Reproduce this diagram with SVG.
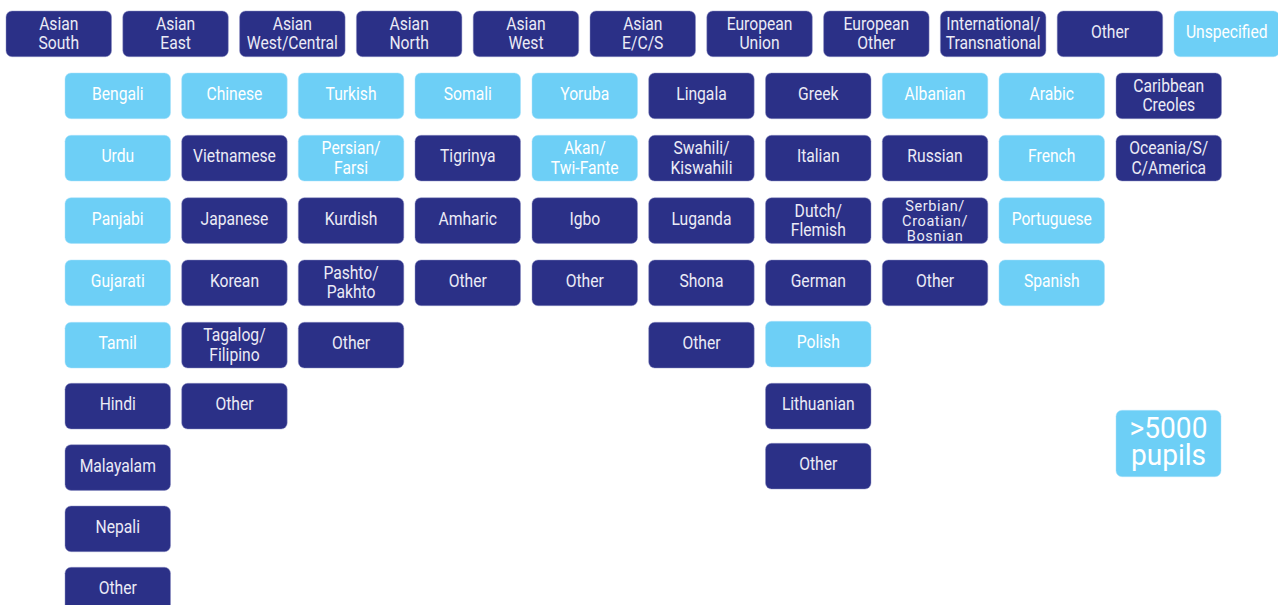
<svg xmlns="http://www.w3.org/2000/svg" width="1278" height="605" viewBox="0 0 1278 605">
<style>
rect{stroke-width:0.8;}
.d rect{fill:#2b3087;stroke:#8e90c4;stroke-opacity:0.6;}
.l rect{fill:#6dcff6;stroke:#a8e2fa;stroke-opacity:0.6;}
text{font-family:Roboto,"Liberation Sans",sans-serif;font-size:18px;text-anchor:middle;}
.d text{fill:#ebebf6;}
.l text{fill:#ffffff;}
.s{font-size:14.5px;letter-spacing:0.6px;}
.big{font-size:29px;}
</style>
<rect width="1278" height="605" fill="#ffffff"/>
<g id="connectors"></g>
<!-- Top row -->
<g id="n-asian-south" class="d"><rect x="6" y="11" width="105.5" height="45.7" rx="6"/><text transform="translate(58.75 30) scale(0.87 1)"><tspan x="0">Asian</tspan><tspan x="0" dy="19.5">South</tspan></text></g>
<g id="n-asian-east" class="d"><rect x="122.8" y="11" width="105.5" height="45.7" rx="6"/><text transform="translate(175.55 30) scale(0.87 1)"><tspan x="0">Asian</tspan><tspan x="0" dy="19.5">East</tspan></text></g>
<g id="n-asian-west-central" class="d"><rect x="239.6" y="11" width="105.5" height="45.7" rx="6"/><text transform="translate(292.35 30) scale(0.87 1)"><tspan x="0">Asian</tspan><tspan x="0" dy="19.5">West/Central</tspan></text></g>
<g id="n-asian-north" class="d"><rect x="356.4" y="11" width="105.5" height="45.7" rx="6"/><text transform="translate(409.15 30) scale(0.87 1)"><tspan x="0">Asian</tspan><tspan x="0" dy="19.5">North</tspan></text></g>
<g id="n-asian-west" class="d"><rect x="473.2" y="11" width="105.5" height="45.7" rx="6"/><text transform="translate(525.95 30) scale(0.87 1)"><tspan x="0">Asian</tspan><tspan x="0" dy="19.5">West</tspan></text></g>
<g id="n-asian-ecs" class="d"><rect x="590" y="11" width="105.5" height="45.7" rx="6"/><text transform="translate(642.75 30) scale(0.87 1)"><tspan x="0">Asian</tspan><tspan x="0" dy="19.5">E/C/S</tspan></text></g>
<g id="n-european-union" class="d"><rect x="706.8" y="11" width="105.5" height="45.7" rx="6"/><text transform="translate(759.55 30) scale(0.87 1)"><tspan x="0">European</tspan><tspan x="0" dy="19.5">Union</tspan></text></g>
<g id="n-european-other" class="d"><rect x="823.6" y="11" width="105.5" height="45.7" rx="6"/><text transform="translate(876.35 30) scale(0.87 1)"><tspan x="0">European</tspan><tspan x="0" dy="19.5">Other</tspan></text></g>
<g id="n-international" class="d"><rect x="940.4" y="11" width="105.5" height="45.7" rx="6"/><text transform="translate(993.15 30) scale(0.87 1)"><tspan x="0">International/</tspan><tspan x="0" dy="19.5">Transnational</tspan></text></g>
<g id="n-other-top" class="d"><rect x="1057.2" y="11" width="105.5" height="45.7" rx="6"/><text transform="translate(1109.95 38) scale(0.87 1)">Other</text></g>
<g id="n-unspecified" class="l"><rect x="1174" y="11" width="105.5" height="45.7" rx="6"/><text transform="translate(1226.75 38) scale(0.87 1)">Unspecified</text></g>
<!-- Column 1 -->
<g id="n-bengali" class="l"><rect x="65" y="73" width="105.5" height="45.7" rx="6"/><text transform="translate(117.75 100) scale(0.87 1)">Bengali</text></g>
<g id="n-urdu" class="l"><rect x="65" y="135.3" width="105.5" height="45.7" rx="6"/><text transform="translate(117.75 162.3) scale(0.87 1)">Urdu</text></g>
<g id="n-panjabi" class="l"><rect x="65" y="197.7" width="105.5" height="45.7" rx="6"/><text transform="translate(117.75 224.7) scale(0.87 1)">Panjabi</text></g>
<g id="n-gujarati" class="l"><rect x="65" y="260" width="105.5" height="45.7" rx="6"/><text transform="translate(117.75 287) scale(0.87 1)">Gujarati</text></g>
<g id="n-tamil" class="l"><rect x="65" y="322.3" width="105.5" height="45.7" rx="6"/><text transform="translate(117.75 349.3) scale(0.87 1)">Tamil</text></g>
<g id="n-hindi" class="d"><rect x="65" y="383.3" width="105.5" height="45.7" rx="6"/><text transform="translate(117.75 410.3) scale(0.87 1)">Hindi</text></g>
<g id="n-malayalam" class="d"><rect x="65" y="444.7" width="105.5" height="45.7" rx="6"/><text transform="translate(117.75 471.7) scale(0.87 1)">Malayalam</text></g>
<g id="n-nepali" class="d"><rect x="65" y="506" width="105.5" height="45.7" rx="6"/><text transform="translate(117.75 533) scale(0.87 1)">Nepali</text></g>
<g id="n-other-c1" class="d"><rect x="65" y="567.3" width="105.5" height="45.7" rx="6"/><text transform="translate(117.75 594.3) scale(0.87 1)">Other</text></g>
<!-- Column 2 -->
<g id="n-chinese" class="l"><rect x="181.7" y="73" width="105.5" height="45.7" rx="6"/><text transform="translate(234.45 100) scale(0.87 1)">Chinese</text></g>
<g id="n-vietnamese" class="d"><rect x="181.7" y="135.3" width="105.5" height="45.7" rx="6"/><text transform="translate(234.45 162.3) scale(0.87 1)">Vietnamese</text></g>
<g id="n-japanese" class="d"><rect x="181.7" y="197.7" width="105.5" height="45.7" rx="6"/><text transform="translate(234.45 224.7) scale(0.87 1)">Japanese</text></g>
<g id="n-korean" class="d"><rect x="181.7" y="260" width="105.5" height="45.7" rx="6"/><text transform="translate(234.45 287) scale(0.87 1)">Korean</text></g>
<g id="n-tagalog" class="d"><rect x="181.7" y="322.3" width="105.5" height="45.7" rx="6"/><text transform="translate(234.45 341.3) scale(0.87 1)"><tspan x="0">Tagalog/</tspan><tspan x="0" dy="19.5">Filipino</tspan></text></g>
<g id="n-other-c2" class="d"><rect x="181.7" y="383.3" width="105.5" height="45.7" rx="6"/><text transform="translate(234.45 410.3) scale(0.87 1)">Other</text></g>
<!-- Column 3 -->
<g id="n-turkish" class="l"><rect x="298.3" y="73" width="105.5" height="45.7" rx="6"/><text transform="translate(351.05 100) scale(0.87 1)">Turkish</text></g>
<g id="n-persian" class="l"><rect x="298.3" y="135.3" width="105.5" height="45.7" rx="6"/><text transform="translate(351.05 154.3) scale(0.87 1)"><tspan x="0">Persian/</tspan><tspan x="0" dy="19.5">Farsi</tspan></text></g>
<g id="n-kurdish" class="d"><rect x="298.3" y="197.7" width="105.5" height="45.7" rx="6"/><text transform="translate(351.05 224.7) scale(0.87 1)">Kurdish</text></g>
<g id="n-pashto" class="d"><rect x="298.3" y="260" width="105.5" height="45.7" rx="6"/><text transform="translate(351.05 279) scale(0.87 1)"><tspan x="0">Pashto/</tspan><tspan x="0" dy="19.5">Pakhto</tspan></text></g>
<g id="n-other-c3" class="d"><rect x="298.3" y="322.3" width="105.5" height="45.7" rx="6"/><text transform="translate(351.05 349.3) scale(0.87 1)">Other</text></g>
<!-- Column 4 -->
<g id="n-somali" class="l"><rect x="415" y="73" width="105.5" height="45.7" rx="6"/><text transform="translate(467.75 100) scale(0.87 1)">Somali</text></g>
<g id="n-tigrinya" class="d"><rect x="415" y="135.3" width="105.5" height="45.7" rx="6"/><text transform="translate(467.75 162.3) scale(0.87 1)">Tigrinya</text></g>
<g id="n-amharic" class="d"><rect x="415" y="197.7" width="105.5" height="45.7" rx="6"/><text transform="translate(467.75 224.7) scale(0.87 1)">Amharic</text></g>
<g id="n-other-c4" class="d"><rect x="415" y="260" width="105.5" height="45.7" rx="6"/><text transform="translate(467.75 287) scale(0.87 1)">Other</text></g>
<!-- Column 5 -->
<g id="n-yoruba" class="l"><rect x="532" y="73" width="105.5" height="45.7" rx="6"/><text transform="translate(584.75 100) scale(0.87 1)">Yoruba</text></g>
<g id="n-akan" class="l"><rect x="532" y="135.3" width="105.5" height="45.7" rx="6"/><text transform="translate(584.75 154.3) scale(0.87 1)"><tspan x="0">Akan/</tspan><tspan x="0" dy="19.5">Twi-Fante</tspan></text></g>
<g id="n-igbo" class="d"><rect x="532" y="197.7" width="105.5" height="45.7" rx="6"/><text transform="translate(584.75 224.7) scale(0.87 1)">Igbo</text></g>
<g id="n-other-c5" class="d"><rect x="532" y="260" width="105.5" height="45.7" rx="6"/><text transform="translate(584.75 287) scale(0.87 1)">Other</text></g>
<!-- Column 6 -->
<g id="n-lingala" class="d"><rect x="648.7" y="73" width="105.5" height="45.7" rx="6"/><text transform="translate(701.45 100) scale(0.87 1)">Lingala</text></g>
<g id="n-swahili" class="d"><rect x="648.7" y="135.3" width="105.5" height="45.7" rx="6"/><text transform="translate(701.45 154.3) scale(0.87 1)"><tspan x="0">Swahili/</tspan><tspan x="0" dy="19.5">Kiswahili</tspan></text></g>
<g id="n-luganda" class="d"><rect x="648.7" y="197.7" width="105.5" height="45.7" rx="6"/><text transform="translate(701.45 224.7) scale(0.87 1)">Luganda</text></g>
<g id="n-shona" class="d"><rect x="648.7" y="260" width="105.5" height="45.7" rx="6"/><text transform="translate(701.45 287) scale(0.87 1)">Shona</text></g>
<g id="n-other-c6" class="d"><rect x="648.7" y="322.3" width="105.5" height="45.7" rx="6"/><text transform="translate(701.45 349.3) scale(0.87 1)">Other</text></g>
<!-- Column 7 -->
<g id="n-greek" class="d"><rect x="765.5" y="73" width="105.5" height="45.7" rx="6"/><text transform="translate(818.25 100) scale(0.87 1)">Greek</text></g>
<g id="n-italian" class="d"><rect x="765.5" y="135.3" width="105.5" height="45.7" rx="6"/><text transform="translate(818.25 162.3) scale(0.87 1)">Italian</text></g>
<g id="n-dutch" class="d"><rect x="765.5" y="197.7" width="105.5" height="45.7" rx="6"/><text transform="translate(818.25 216.7) scale(0.87 1)"><tspan x="0">Dutch/</tspan><tspan x="0" dy="19.5">Flemish</tspan></text></g>
<g id="n-german" class="d"><rect x="765.5" y="260" width="105.5" height="45.7" rx="6"/><text transform="translate(818.25 287) scale(0.87 1)">German</text></g>
<g id="n-polish" class="l"><rect x="765.5" y="321.3" width="105.5" height="45.7" rx="6"/><text transform="translate(818.25 348.3) scale(0.87 1)">Polish</text></g>
<g id="n-lithuanian" class="d"><rect x="765.5" y="383.3" width="105.5" height="45.7" rx="6"/><text transform="translate(818.25 410.3) scale(0.87 1)">Lithuanian</text></g>
<g id="n-other-c7" class="d"><rect x="765.5" y="443.3" width="105.5" height="45.7" rx="6"/><text transform="translate(818.25 470.3) scale(0.87 1)">Other</text></g>
<!-- Column 8 -->
<g id="n-albanian" class="l"><rect x="882.3" y="73" width="105.5" height="45.7" rx="6"/><text transform="translate(935.05 100) scale(0.87 1)">Albanian</text></g>
<g id="n-russian" class="d"><rect x="882.3" y="135.3" width="105.5" height="45.7" rx="6"/><text transform="translate(935.05 162.3) scale(0.87 1)">Russian</text></g>
<g id="n-serbian" class="d"><rect x="882.3" y="197.7" width="105.5" height="45.7" rx="6"/><text class="s" transform="translate(935.05 210.7)"><tspan x="0">Serbian/</tspan><tspan x="0" dy="15.3">Croatian/</tspan><tspan x="0" dy="15">Bosnian</tspan></text></g>
<g id="n-other-c8" class="d"><rect x="882.3" y="260" width="105.5" height="45.7" rx="6"/><text transform="translate(935.05 287) scale(0.87 1)">Other</text></g>
<!-- Column 9 -->
<g id="n-arabic" class="l"><rect x="999" y="73" width="105.5" height="45.7" rx="6"/><text transform="translate(1051.75 100) scale(0.87 1)">Arabic</text></g>
<g id="n-french" class="l"><rect x="999" y="135.3" width="105.5" height="45.7" rx="6"/><text transform="translate(1051.75 162.3) scale(0.87 1)">French</text></g>
<g id="n-portuguese" class="l"><rect x="999" y="197.7" width="105.5" height="45.7" rx="6"/><text transform="translate(1051.75 224.7) scale(0.87 1)">Portuguese</text></g>
<g id="n-spanish" class="l"><rect x="999" y="260" width="105.5" height="45.7" rx="6"/><text transform="translate(1051.75 287) scale(0.87 1)">Spanish</text></g>
<!-- Column 10 -->
<g id="n-caribbean" class="d"><rect x="1116" y="73" width="105.5" height="45.7" rx="6"/><text transform="translate(1168.75 92) scale(0.87 1)"><tspan x="0">Caribbean</tspan><tspan x="0" dy="19.5">Creoles</tspan></text></g>
<g id="n-oceania" class="d"><rect x="1116" y="135.3" width="105.5" height="45.7" rx="6"/><text transform="translate(1168.75 154.3) scale(0.87 1)"><tspan x="0">Oceania/S/</tspan><tspan x="0" dy="19.5">C/America</tspan></text></g>
<!-- Legend -->
<g id="legend" class="l"><rect x="1116" y="410.3" width="105" height="66.4" rx="6"/><text class="big" transform="translate(1168.5 438.3) scale(0.97 1)"><tspan x="0">&gt;5000</tspan><tspan x="0" dy="26.7">pupils</tspan></text></g>
</svg>
